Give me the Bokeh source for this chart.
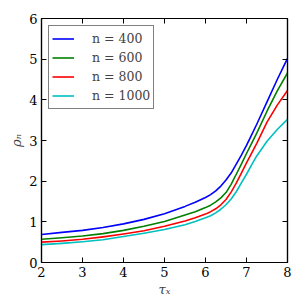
from bokeh.plotting import figure
from bokeh.models import Range1d, FixedTicker, LinearAxis, Legend, LegendItem, CustomJSTickFormatter
from bokeh.embed import file_html
from bokeh.resources import INLINE

tau = [2.0, 2.5, 3.0, 3.5, 4.0, 4.5, 5.0, 5.5, 5.75, 6.0, 6.125, 6.25, 6.375, 6.5,
       6.625, 6.75, 6.875, 7.0, 7.125, 7.25, 7.5, 7.75, 8.0]
rho_400 = [0.69, 0.74, 0.79, 0.86, 0.95, 1.06, 1.20, 1.38, 1.48, 1.60, 1.67, 1.76, 1.88, 2.03,
           2.20, 2.42, 2.64, 2.88, 3.14, 3.40, 3.95, 4.50, 5.02]
rho_600 = [0.57, 0.61, 0.65, 0.71, 0.79, 0.89, 1.01, 1.17, 1.25, 1.35, 1.41, 1.49, 1.59, 1.72,
           1.92, 2.17, 2.42, 2.68, 2.93, 3.18, 3.72, 4.22, 4.66]
rho_800 = [0.50, 0.53, 0.57, 0.63, 0.70, 0.78, 0.89, 1.02, 1.10, 1.19, 1.25, 1.32, 1.42, 1.55,
           1.73, 1.95, 2.20, 2.45, 2.69, 2.93, 3.45, 3.87, 4.23]
rho_1000 = [0.44, 0.47, 0.51, 0.56, 0.64, 0.72, 0.81, 0.93, 1.01, 1.10, 1.15, 1.22, 1.31, 1.42,
            1.56, 1.74, 1.96, 2.17, 2.40, 2.62, 2.98, 3.27, 3.52]
series = [("n = 400", rho_400, "#0000ff"), ("n = 600", rho_600, "#008000"),
          ("n = 800", rho_800, "#ff0000"), ("n = 1000", rho_1000, "#00bfbf")]
x_ticks = [2, 3, 4, 5, 6, 7, 8]
y_ticks = [0, 1, 2, 3, 4, 5, 6]

FONT = "DejaVu Serif"

p = figure(width=297, height=299, output_backend="svg", toolbar_location=None,
           x_range=Range1d(2, 8), y_range=Range1d(0, 6),
           min_border_left=41, min_border_right=10, min_border_top=18, min_border_bottom=35)
p.grid.visible = False
p.outline_line_color = "black"
p.outline_line_width = 1.2
p.background_fill_color = "white"
p.border_fill_color = "white"

items = []
for label, ys, color in series:
    r = p.line(tau, ys, line_color=color, line_width=1.6, line_join="round")
    items.append(LegendItem(label=label, renderers=[r]))

def style_axis(ax, ticks, labels=True):
    ax.ticker = FixedTicker(ticks=ticks)
    ax.major_tick_in = 5
    ax.major_tick_out = 0
    ax.minor_tick_in = 0
    ax.minor_tick_out = 0
    ax.axis_line_color = "black"
    ax.axis_line_width = 1.2
    ax.major_tick_line_color = "black"
    ax.major_label_text_font = FONT
    ax.major_label_text_font_size = "13px"
    ax.major_label_text_color = "black"
    ax.major_label_standoff = 4
    ax.axis_label_text_font = FONT
    ax.axis_label_text_font_size = "13px"
    ax.axis_label_text_font_style = "italic"
    ax.axis_label_standoff = 2
    if not labels:
        ax.formatter = CustomJSTickFormatter(code="return ''")
        ax.major_label_standoff = 0

style_axis(p.xaxis[0], x_ticks)
style_axis(p.yaxis[0], y_ticks)
p.xaxis[0].axis_label = "τₓ"
p.yaxis[0].axis_label = "ρₙ"

top = LinearAxis()
style_axis(top, x_ticks, labels=False)
p.add_layout(top, "above")
right = LinearAxis()
style_axis(right, y_ticks, labels=False)
p.add_layout(right, "right")

legend = Legend(items=items, location="top_left")
legend.margin = 7
legend.padding = 3
legend.spacing = 0
legend.glyph_width = 22
legend.glyph_height = 19
legend.label_standoff = 18
legend.label_text_font = FONT
legend.label_text_font_size = "12.5px"
legend.label_height = 19
legend.border_line_color = "black"
legend.border_line_width = 1.2
legend.background_fill_alpha = 1.0
p.add_layout(legend)

open("out.html", "w").write(file_html(p, INLINE))
